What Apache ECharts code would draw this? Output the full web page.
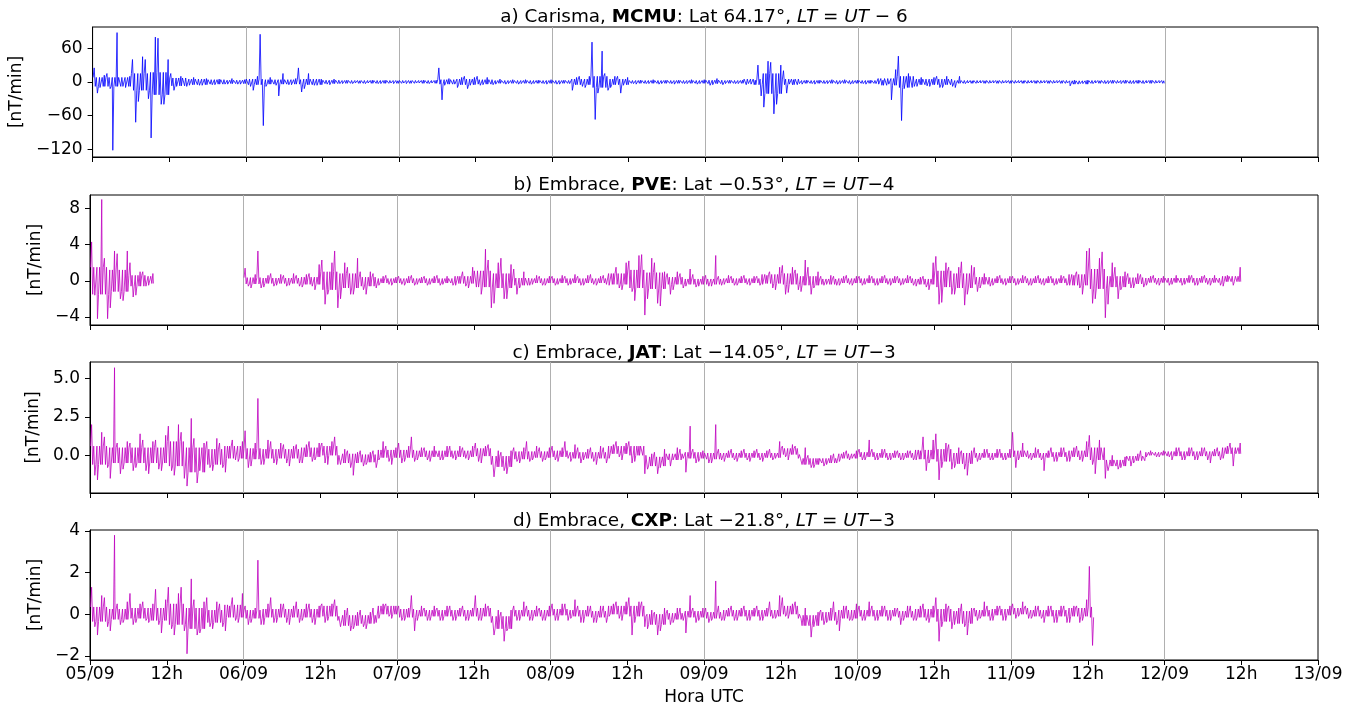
<!DOCTYPE html>
<html>
<head>
<meta charset="utf-8">
<title>dB/dt</title>
<script src="https://cdn.jsdelivr.net/npm/echarts@6/dist/echarts.min.js"></script>
<style>
  html, body { margin: 0; padding: 0; background: #fff; }
  #chart { width: 1357px; height: 707px; }
</style>
</head>
<body>
<div id="chart"></div>
<script>
// x ticks every 12 h from 05/09 00h to 13/09 00h
const dayLabels = ['05/09', '06/09', '07/09', '08/09', '09/09', '10/09', '11/09', '12/09', '13/09'];

// panel titles
const networks = ['Carisma', 'Embrace', 'Embrace', 'Embrace'];
const stations = ['MCMU', 'PVE', 'JAT', 'CXP'];
const lats = ['64.17', '\u22120.53', '\u221214.05', '\u221221.8'];
const offsets = [' \u2212 6', '\u22124', '\u22123', '\u22123'];

// y tick labels per panel
const ticksA = [-120, -60, 0, 60];
const ticksB = [-4, 0, 4, 8];
const ticksC = [0, 2.5, 5];
const ticksD = [-2, 0, 2, 4];

// hourly max / min of dB/dt [nT/min], hour 0 = 05/09 00h UTC
const mcmuHi = [
  25, 12, 15, 88, 8, 10, 40, 45, 40, 80, 78, 40,
  15, 10, 8, 8, 8, 6, 7, 5, 5, 6, 5, 4,
  8, 10, 85, 8, 7, 15, 5, 6, 25, 15, 6, 5,
  5, 5, 3, 3, 3, 2, 3, 3, 2, 3, 3, 2,
  3, 2, 2, 3, 2, 3, 25, 6, 5, 8, 10, 8,
  10, 8, 6, 5, 4, 4, 3, 4, 4, 3, 4, 4,
  4, 3, 4, 8, 10, 10, 71, 55, 15, 10, 10, 8,
  4, 3, 3, 4, 3, 3, 4, 3, 3, 4, 3, 4,
  6, 6, 5, 3, 3, 3, 3, 3, 30, 37, 35, 30,
  20, 4, 4, 3, 4, 3, 4, 4, 3, 4, 3, 3,
  4, 3, 4, 3, 4, 22, 46, 15, 8, 8, 6, 8,
  10, 10, 8, 10, 3, 2, 2, 2, 2, 2, 2, 2,
  2, 2, 2, 2, 2, 2, 2, 2, 2, 3, 3, 3,
  3, 2, 3, 3, 3, 3, 3, 3, 3, 3, 2, 2
];
const mcmuLo = [
  -20, -10, -12, -122, -8, -10, -72, -35, -30, -100, -40, -40,
  -15, -8, -8, -6, -6, -6, -5, -5, -4, -4, -4, -4,
  -8, -15, -78, -8, -6, -25, -5, -5, -18, -12, -6, -6,
  -4, -5, -3, -3, -3, -2, -3, -2, -3, -3, -2, -3,
  -2, -3, -2, -2, -3, -2, -32, -6, -4, -10, -12, -6,
  -6, -5, -5, -4, -4, -3, -4, -3, -4, -3, -3, -4,
  -4, -4, -3, -15, -8, -10, -67, -20, -15, -10, -20, -6,
  -3, -4, -3, -3, -4, -3, -3, -4, -3, -3, -4, -3,
  -6, -5, -5, -3, -3, -3, -3, -4, -25, -45, -57, -40,
  -20, -4, -3, -4, -3, -4, -3, -3, -4, -3, -4, -3,
  -3, -4, -3, -4, -4, -32, -69, -12, -8, -8, -7, -8,
  -10, -10, -8, -10, -3, -2, -2, -2, -2, -2, -2, -2,
  -2, -2, -2, -2, -2, -2, -2, -2, -2, -7, -3, -3,
  -3, -2, -3, -3, -2, -3, -3, -3, -3, -2, -2, -2
];
// dense core of the trace per 3 h block: half width and centre
const mcmuBand = [
  8, 8, 15, 20, 7, 5, 4, 3, 5, 4, 4, 5, 3, 2.5, 2.5, 2.5,
  2.5, 2.5, 4, 5, 4, 2.5, 2.5, 2.5, 2.5, 5, 10, 5, 2.5, 2.5, 2.5, 2.5,
  3, 2.5, 5, 18, 5, 2.5, 2.5, 2.5, 2.5, 6, 10, 5, 5, 2.5, 2.5, 2.5,
  2.5, 2.5, 2.5, 3, 2.5, 2.5, 2.5, 2.5
];
const mcmuMid = [
  0, 0, 0, -3, 0, 0, 0, 0, 0, 0, 0, 0, 0, 0, 0, 0,
  0, 0, 0, 0, 0, 0, 0, 0, 0, 0, 0, 0, 0, 0, 0, 0,
  0, 0, 0, -3, 0, 0, 0, 0, 0, 0, 0, 0, 0, 0, 0, 0,
  0, 0, 0, -1, 0, 0, 0, 0
];

const pveHi = [
  4.3, 9.0, 2.5, 3.3, 3.0, 3.3, 2.0, 1.0, 1.0, 0.8, null, null,
  null, null, null, null, null, null, null, null, null, null, null, null,
  1.4, 0.7, 3.3, 0.6, 0.8, 0.7, 0.6, 0.8, 0.6, 0.7, 0.8, 1.8,
  2.3, 2.0, 3.3, 2.0, 1.5, 2.5, 1.0, 1.0, 0.8, 0.5, 0.6, 0.4,
  0.5, 0.5, 0.6, 0.4, 0.5, 0.5, 0.6, 0.5, 0.4, 0.5, 1.0, 1.5,
  1.3, 3.5, 2.3, 2.0, 2.5, 1.8, 1.3, 1.0, 0.5, 0.6, 0.5, 0.5,
  0.5, 0.6, 0.5, 0.7, 0.5, 0.6, 0.7, 0.5, 0.6, 0.8, 1.5, 2.0,
  2.2, 2.8, 2.9, 2.5, 2.0, 1.0, 0.8, 1.0, 0.8, 1.3, 0.7, 0.5,
  0.6, 2.8, 0.5, 0.6, 0.5, 0.5, 0.6, 0.5, 0.5, 0.6, 1.0, 1.5,
  1.7, 1.5, 1.2, 2.3, 1.5, 1.0, 0.5, 0.6, 0.5, 0.5, 0.6, 0.5,
  0.5, 0.6, 0.5, 0.5, 0.6, 0.5, 0.5, 0.6, 0.5, 0.4, 0.5, 2.0,
  2.7, 2.0, 1.5, 1.5, 2.1, 1.7, 1.5, 0.8, 0.6, 0.5, 0.6, 0.5,
  0.5, 0.6, 0.5, 0.5, 0.6, 0.5, 0.5, 0.6, 0.5, 0.6, 1.0, 3.3,
  3.6, 2.5, 3.2, 2.0, 1.5, 1.0, 0.8, 0.8, 0.7, 0.5, 0.6, 0.5,
  0.5, 0.6, 0.5, 0.6, 0.6, 0.5, 0.6, 0.6, 0.5, 0.6, 0.6, 1.5
];
const pveLo = [
  -1.6, -4.2, -4.2, -3.0, -2.0, -2.2, -1.8, -1.6, -0.6, -0.5, null, null,
  null, null, null, null, null, null, null, null, null, null, null, null,
  -0.6, -0.8, -0.8, -0.7, -0.6, -0.5, -0.6, -0.5, -0.6, -0.7, -0.6, -1.0,
  -2.6, -1.5, -3.0, -2.0, -1.5, -1.5, -1.0, -1.5, -0.8, -0.5, -0.4, -0.5,
  -0.4, -0.5, -0.5, -0.4, -0.5, -0.4, -0.5, -0.4, -0.5, -0.5, -0.6, -0.8,
  -0.7, -1.5, -3.0, -2.5, -2.0, -2.0, -1.5, -0.8, -0.5, -0.4, -0.5, -0.5,
  -0.5, -0.4, -0.5, -0.4, -0.5, -0.5, -0.4, -0.5, -0.4, -0.5, -0.8, -1.0,
  -1.2, -2.2, -3.8, -2.0, -2.5, -2.8, -1.5, -1.0, -0.8, -0.6, -0.7, -0.6,
  -0.6, -0.6, -0.5, -0.4, -0.5, -0.5, -0.4, -0.5, -0.5, -0.4, -0.8, -1.0,
  -1.5, -1.3, -1.0, -1.2, -1.5, -0.8, -0.5, -0.4, -0.5, -0.5, -0.4, -0.5,
  -0.5, -0.4, -0.5, -0.5, -0.4, -0.5, -0.5, -0.4, -0.5, -0.6, -0.7, -1.0,
  -2.6, -2.4, -1.5, -1.5, -2.7, -1.5, -1.2, -0.8, -0.6, -0.5, -0.4, -0.5,
  -0.5, -0.4, -0.5, -0.5, -0.4, -0.5, -0.5, -0.4, -0.5, -0.5, -0.8, -1.5,
  -2.5, -2.0, -4.1, -2.6, -2.0, -1.0, -0.8, -0.8, -0.7, -0.5, -0.4, -0.5,
  -0.5, -0.4, -0.5, -0.4, -0.5, -0.5, -0.4, -0.5, -0.5, -0.6, -0.5, 0.3
];
const pveBand = [
  1.5, 1.2, 0.6, 0.4, 0.3, 0.3, 0.3, 0.3, 0.35, 0.3, 0.3, 0.4, 1.0, 0.8, 0.5, 0.25,
  0.25, 0.25, 0.25, 0.4, 0.9, 0.8, 0.4, 0.25, 0.25, 0.25, 0.25, 0.6, 1.0, 0.9, 0.4, 0.3,
  0.3, 0.25, 0.25, 0.5, 0.6, 0.5, 0.3, 0.25, 0.25, 0.25, 0.25, 0.3, 0.9, 0.8, 0.4, 0.25,
  0.25, 0.25, 0.25, 0.6, 1.1, 0.6, 0.35, 0.25, 0.25, 0.25, 0.25, 0.3
];
const pveMid = [
  0, 0, 0, 0.1, 0, 0, 0, 0, 0, 0, 0, 0, 0, 0, -0.1, 0,
  0, 0, 0, 0.1, 0.2, 0, -0.1, 0, 0, 0, 0, 0.2, 0.2, 0, 0, -0.1,
  -0.1, 0, 0, 0.2, 0.2, 0, -0.1, 0, 0, 0, 0, -0.1, 0.2, 0, 0, 0,
  0, 0, 0, 0.1, 0.2, -0.1, 0, 0.05, 0.05, 0.05, 0.05, 0.2
];

const jatHi = [
  2.0, 1.5, 1.2, 5.7, 0.8, 0.9, 0.8, 1.4, 1.0, 0.9, 1.0, 1.3,
  1.9, 2.0, 1.5, 2.4, 1.1, 0.8, 0.9, 1.1, 0.8, 0.6, 1.0, 0.9,
  1.6, 0.8, 3.7, 1.0, 0.9, 0.8, 0.7, 0.6, 0.7, 0.7, 0.9, 0.8,
  0.8, 0.9, 1.2, 0.4, 0.3, 0.2, 0.3, 0.2, 0.3, 0.9, 0.6, 0.5,
  0.8, 0.6, 1.2, 0.5, 0.5, 0.6, 0.4, 0.6, 0.6, 0.6, 0.5, 0.6,
  0.8, 0.6, 0.7, 0.3, 0.2, 0.3, 0.5, 0.5, 0.9, 0.6, 0.5, 0.5,
  0.6, 0.5, 0.9, 0.7, 0.5, 0.4, 0.5, 0.6, 0.5, 0.7, 0.9, 0.8,
  0.9, 0.6, 0.5, 0.1, 0.2, 0.4, 0.2, 0.5, 0.4, 1.9, 0.4, 0.3,
  0.2, 2.0, 0.4, 0.3, 0.4, 0.3, 0.4, 0.3, 0.4, 0.3, 0.4, 0.9,
  0.6, 0.7, 0.6, 0.5, 0.0, -0.2, -0.2, 0.0, 0.1, 0.2, 0.3, 0.3,
  0.4, 1.0, 0.4, 0.4, 0.4, 0.3, 0.3, 0.3, 0.3, 0.3, 1.2, 1.0,
  1.4, 0.8, 0.7, 0.5, 0.3, 0.3, 0.5, 0.4, 0.4, 0.4, 0.4, 0.4,
  1.5, 0.8, 0.4, 0.5, 0.4, 0.3, 0.5, 0.5, 0.5, 0.5, 0.6, 0.9,
  1.3, 1.0, 0.6, 0.0, -0.2, -0.1, 0.0, 0.1, 0.3, 0.3, 0.3, 0.3,
  0.3, 0.5, 0.5, 0.5, 0.5, 0.5, 0.5, 0.4, 0.5, 0.6, 0.8, 0.8
];
const jatLo = [
  -1.3, -1.6, -0.8, -1.5, -1.2, -0.9, -1.0, -0.8, -1.0, -1.2, -0.9, -1.0,
  -1.0, -1.3, -1.5, -2.0, -1.8, -1.0, -0.8, -1.0, -0.8, -1.1, -0.3, -0.4,
  -0.8, -0.7, -0.6, -0.6, -0.5, -0.6, -0.5, -0.7, -0.5, -0.5, -0.4, -0.3,
  -0.5, -0.6, -0.6, -0.6, -0.8, -1.3, -0.7, -0.6, -0.8, -0.3, -0.4, -0.6,
  -0.5, -0.4, -0.4, -0.3, -0.3, -0.4, -0.3, -0.3, -0.2, -0.3, -0.2, -0.3,
  -0.4, -0.5, -0.6, -1.4, -1.0, -1.2, -0.4, -0.5, -0.4, -0.3, -0.4, -0.3,
  -0.3, -0.4, -0.2, -0.4, -0.5, -0.3, -0.4, -0.6, -0.5, -0.2, -0.1, -0.3,
  -0.5, -0.4, -1.2, -0.9, -1.2, -0.8, -0.7, -0.3, -0.2, -1.1, -0.5, -0.4,
  -0.5, -0.5, -0.3, -0.4, -0.3, -0.4, -0.3, -0.4, -0.3, -0.4, -0.3, -0.2,
  -0.1, -0.3, -0.2, -0.3, -0.8, -0.8, -0.7, -0.6, -0.5, -0.4, -0.3, -0.2,
  -0.3, -0.3, -0.3, -0.3, -0.3, -0.3, -0.3, -0.3, -0.3, -0.3, -1.0, -0.5,
  -1.6, -0.8, -0.9, -0.8, -0.9, -1.3, -0.4, -0.3, -0.3, -0.3, -0.3, -0.3,
  -0.8, -0.3, -0.2, -0.3, -0.3, -1.0, -0.4, -0.4, -0.4, -0.4, -0.3, -0.4,
  -0.6, -1.2, -1.5, -1.0, -0.9, -0.8, -0.7, -0.5, -0.2, -0.1, -0.1, -0.1,
  -0.1, -0.3, -0.3, -0.3, -0.3, -0.3, -0.3, -0.5, -0.3, -0.2, -0.7, 0.1
];
const jatBand = [
  0.6, 0.5, 0.5, 0.5, 0.8, 0.8, 0.5, 0.4, 0.35, 0.3, 0.3, 0.3, 0.3, 0.3, 0.25, 0.25,
  0.25, 0.2, 0.2, 0.2, 0.25, 0.35, 0.25, 0.2, 0.2, 0.2, 0.2, 0.25, 0.3, 0.3, 0.2, 0.2,
  0.2, 0.15, 0.15, 0.15, 0.2, 0.2, 0.15, 0.15, 0.15, 0.15, 0.15, 0.3, 0.4, 0.35, 0.15, 0.15,
  0.2, 0.15, 0.15, 0.2, 0.4, 0.2, 0.15, 0.1, 0.15, 0.15, 0.15, 0.2
];
const jatMid = [
  0, 0, 0, 0, 0.1, -0.3, -0.1, 0.2, 0.1, 0.1, 0.1, 0.2, 0.3, -0.2, -0.2, 0.1,
  0.1, 0.1, 0.1, 0.1, 0.2, -0.4, 0, 0.05, 0.1, 0, 0, 0.35, 0.3, -0.4, -0.1, 0,
  -0.05, 0, 0, 0, 0.25, -0.4, -0.35, -0.05, 0.05, 0, 0, 0.05, 0, -0.2, 0, 0,
  0.1, 0, 0.05, 0.1, 0.1, -0.5, -0.2, 0.1, 0.1, 0.1, 0.1, 0.3
];

const cxpHi = [
  1.3, 0.9, 0.8, 3.8, 0.5, 0.6, 1.0, 0.5, 0.6, 0.5, 1.2, 0.7,
  1.3, 1.0, 1.3, 1.7, 0.7, 0.6, 0.8, 0.6, 0.5, 0.4, 0.8, 1.0,
  0.4, 0.3, 2.6, 0.5, 0.8, 0.5, 0.5, 0.4, 0.6, 0.5, 0.5, 0.4,
  0.5, 0.5, 0.7, 0.2, 0.3, 0.1, 0.2, 0.1, 0.3, 0.5, 0.5, 0.4,
  0.4, 0.3, 0.9, 0.4, 0.3, 0.4, 0.3, 0.4, 0.4, 0.3, 0.4, 0.3,
  0.9, 0.5, 0.4, 0.2, 0.1, 0.2, 0.4, 0.6, 0.4, 0.4, 0.3, 0.4,
  0.5, 0.5, 0.5, 0.7, 0.4, 0.4, 0.4, 0.4, 0.4, 0.5, 0.6, 0.6,
  0.8, 0.6, 0.6, 0.2, 0.1, 0.3, 0.2, 0.3, 0.3, 0.9, 0.3, 0.3,
  0.3, 1.6, 0.4, 0.3, 0.4, 0.3, 0.4, 0.3, 0.4, 0.3, 0.6, 0.9,
  0.8, 0.5, 0.6, 0.3, 0.0, 0.1, 0.2, 0.3, 0.6, 0.4, 0.4, 0.5,
  0.4, 0.6, 0.4, 0.4, 0.4, 0.3, 0.3, 0.4, 0.4, 0.4, 0.5, 0.4,
  0.8, 0.5, 0.4, 0.3, 0.5, 0.3, 0.3, 0.6, 0.4, 0.4, 0.4, 0.4,
  0.5, 0.6, 0.4, 0.4, 0.4, 0.4, 0.4, 0.4, 0.4, 0.4, 0.4, 0.7,
  2.3
];
const cxpLo = [
  -0.6, -1.0, -0.6, -0.8, -0.5, -0.4, -0.5, -0.4, -0.3, -0.4, -0.5, -0.9,
  -0.7, -1.0, -0.8, -1.9, -1.0, -0.9, -0.6, -0.7, -0.6, -0.8, -0.3, -0.4,
  -0.5, -0.4, -0.5, -0.5, -0.4, -0.4, -0.4, -0.5, -0.4, -0.3, -0.4, -0.5,
  -0.4, -0.3, -0.3, -0.6, -0.8, -0.7, -0.6, -0.7, -0.4, -0.2, -0.1, -0.2,
  -0.3, -0.3, -0.8, -0.3, -0.3, -0.3, -0.3, -0.3, -0.3, -0.3, -0.3, -0.3,
  -0.3, -0.3, -0.4, -1.0, -1.3, -0.8, -0.3, -0.3, -0.3, -0.3, -0.3, -0.3,
  -0.3, -0.3, -0.3, -0.2, -0.4, -0.4, -0.4, -0.4, -0.4, -0.1, -0.2, -0.3,
  -1.0, -0.4, -0.6, -0.7, -1.0, -0.8, -0.5, -0.4, -0.3, -0.9, -0.4, -0.3,
  -0.4, -0.3, -0.3, -0.3, -0.3, -0.3, -0.3, -0.3, -0.3, -0.3, -0.2, -0.2,
  -0.1, -0.2, -0.2, -0.2, -1.1, -0.6, -0.5, -0.4, -0.5, -0.8, -0.3, -0.3,
  -0.3, -0.3, -0.3, -0.3, -0.3, -0.3, -0.5, -0.3, -0.3, -0.3, -0.3, -0.4,
  -1.3, -0.6, -0.7, -0.5, -0.6, -1.0, -0.3, -0.2, -0.3, -0.3, -0.3, -0.3,
  -0.2, -0.1, -0.2, -0.2, -0.2, -0.4, -0.4, -0.4, -0.4, -0.4, -0.4, -0.3,
  -1.5
];
const cxpBand = [
  0.35, 0.25, 0.25, 0.3, 0.5, 0.5, 0.3, 0.3, 0.2, 0.2, 0.2, 0.2, 0.25, 0.25, 0.2, 0.2,
  0.2, 0.15, 0.15, 0.15, 0.2, 0.3, 0.15, 0.15, 0.15, 0.15, 0.15, 0.2, 0.25, 0.25, 0.15, 0.15,
  0.15, 0.15, 0.15, 0.15, 0.2, 0.25, 0.2, 0.2, 0.15, 0.15, 0.15, 0.2, 0.3, 0.3, 0.15, 0.15,
  0.15, 0.15, 0.15, 0.2, 0.25
];
const cxpMid = [
  0, 0, 0.05, 0, 0, -0.2, -0.1, 0.15, 0, 0.05, 0.05, 0.05, 0.15, -0.3, -0.25, 0.2,
  0.05, 0.05, 0.05, 0.05, 0.1, -0.4, 0.05, 0.05, 0.1, 0.05, 0, 0.2, 0.15, -0.25, -0.1, 0,
  -0.05, 0.05, 0.05, 0.05, 0.2, -0.3, -0.1, 0, 0.05, 0.05, 0, 0.05, -0.05, -0.15, 0.05, 0.1,
  0.15, 0.05, 0.05, 0.1, 0.1
];

const FONT = 'DejaVu Sans';
const BLUE = '#0000ff';
const MAGENTA = '#bf00bf';

// each hour: the dense core band plus that hour's max and min, null hours break the line.
// odd hours put the min first so the spikes do not line up at a fixed rhythm
function trace(hi, lo, band, mid) {
  const pts = [];
  hi.forEach((h, i) => {
    if (h === null) {
      pts.push([i + 0.5, '-']);
      return;
    }
    const b = Math.floor(i / 3);
    const up = mid[b] + band[b];
    const dn = mid[b] - band[b];
    if (i % 2 === 0) {
      pts.push(
        [i + 1 / 12, up], [i + 3 / 12, h], [i + 5 / 12, dn],
        [i + 7 / 12, up], [i + 9 / 12, lo[i]], [i + 11 / 12, dn]
      );
    } else {
      pts.push(
        [i + 1 / 12, up], [i + 2 / 12, lo[i]], [i + 4 / 12, dn],
        [i + 6 / 12, up], [i + 8 / 12, dn], [i + 10 / 12, h], [i + 11 / 12, dn]
      );
    }
  });
  return pts;
}

const minus = v => String(v).replace('-', '\u2212');

const panels = [
  { top: 27, height: 130, min: -134, max: 98, ticks: ticksA, fmt: minus, nameGap: 62, data: trace(mcmuHi, mcmuLo, mcmuBand, mcmuMid), color: BLUE, titleTop: 8 },
  { top: 195, height: 130, min: -4.9, max: 9.5, ticks: ticksB, fmt: minus, nameGap: 40, data: trace(pveHi, pveLo, pveBand, pveMid), color: MAGENTA, titleTop: 176 },
  { top: 362, height: 131, min: -2.45, max: 6.07, ticks: ticksC, fmt: v => minus(v.toFixed(1)), nameGap: 40, data: trace(jatHi, jatLo, jatBand, jatMid), color: MAGENTA, titleTop: 344 },
  { top: 530, height: 130, min: -2.2, max: 4.05, ticks: ticksD, fmt: minus, nameGap: 40, data: trace(cxpHi, cxpLo, cxpBand, cxpMid), color: MAGENTA, titleTop: 512 },
];

const letters = ['a', 'b', 'c', 'd'];
const textStyle = { fontFamily: FONT, fontSize: 17, fontWeight: 'normal', color: '#000' };
const titleStyle = { ...textStyle, fontSize: 18.4 };

function titleText(i) {
  return `{n|${letters[i]}) ${networks[i]}, }{b|${stations[i]}}{n|: Lat ${lats[i]}\u00b0, }{i|LT}{n| = }{i|UT}{n|${offsets[i]}}`;
}

function hourLabel(v) {
  if (v % 24 === 0) return dayLabels[v / 24];
  return '12h';
}

const option = {
  animation: false,
  backgroundColor: '#fff',
  title: panels.map((p, i) => ({
    text: titleText(i),
    left: 704,
    textAlign: 'center',
    top: p.titleTop,
    padding: 0,
    textStyle: {
      ...titleStyle,
      rich: {
        n: { ...titleStyle },
        b: { ...titleStyle, fontWeight: 'bold' },
        i: { ...titleStyle, fontStyle: 'italic' },
      },
    },
  })),
  grid: panels.map(p => ({
    left: 90,
    right: 39,
    top: p.top,
    height: p.height,
    show: true,
    borderColor: '#000',
    borderWidth: 1,
  })),
  xAxis: [],
  yAxis: [],
  series: [],
};

panels.forEach((p, i) => {
  const last = i === panels.length - 1;
  option.xAxis.push({
    gridIndex: i,
    type: 'value',
    min: 0,
    max: 192,
    interval: 12,
    position: 'bottom',
    axisLine: { onZero: false, lineStyle: { color: '#000', width: 1 } },
    axisTick: { length: 5, lineStyle: { color: '#000', width: 1 } },
    axisLabel: {
      show: last,
      margin: 6,
      ...textStyle,
      formatter: hourLabel,
      showMinLabel: true,
      showMaxLabel: true,
      hideOverlap: false,
    },
    splitLine: { show: false },
    name: last ? 'Hora UTC' : '',
    nameLocation: 'middle',
    nameGap: 29,
    nameTextStyle: textStyle,
  });
  // day grid lines only
  option.xAxis.push({
    gridIndex: i,
    type: 'value',
    min: 0,
    max: 192,
    interval: 24,
    position: 'top',
    axisLine: { show: false, onZero: false },
    axisTick: { show: false },
    axisLabel: { show: false },
    splitLine: {
      show: true,
      showMinLine: false,
      showMaxLine: false,
      lineStyle: { color: '#b0b0b0', width: 1 },
    },
  });
  option.yAxis.push({
    gridIndex: i,
    type: 'value',
    min: p.min,
    max: p.max,
    axisLine: { show: true, onZero: false, lineStyle: { color: '#000', width: 1 } },
    axisTick: { show: true, length: 5, customValues: p.ticks, lineStyle: { color: '#000', width: 1 } },
    axisLabel: { margin: 10, ...textStyle, customValues: p.ticks, formatter: p.fmt },
    splitLine: { show: false },
    name: '[nT/min]',
    nameLocation: 'middle',
    nameGap: p.nameGap,
    nameTextStyle: textStyle,
  });
  option.series.push({
    type: 'line',
    xAxisIndex: i * 2,
    yAxisIndex: i,
    data: p.data,
    showSymbol: false,
    connectNulls: false,
    lineStyle: { color: p.color, width: 0.8 },
    itemStyle: { color: p.color },
    z: 3,
  });
});

const chart = echarts.init(document.getElementById('chart'), null, { renderer: 'canvas' });
chart.setOption(option);
</script>
</body>
</html>
